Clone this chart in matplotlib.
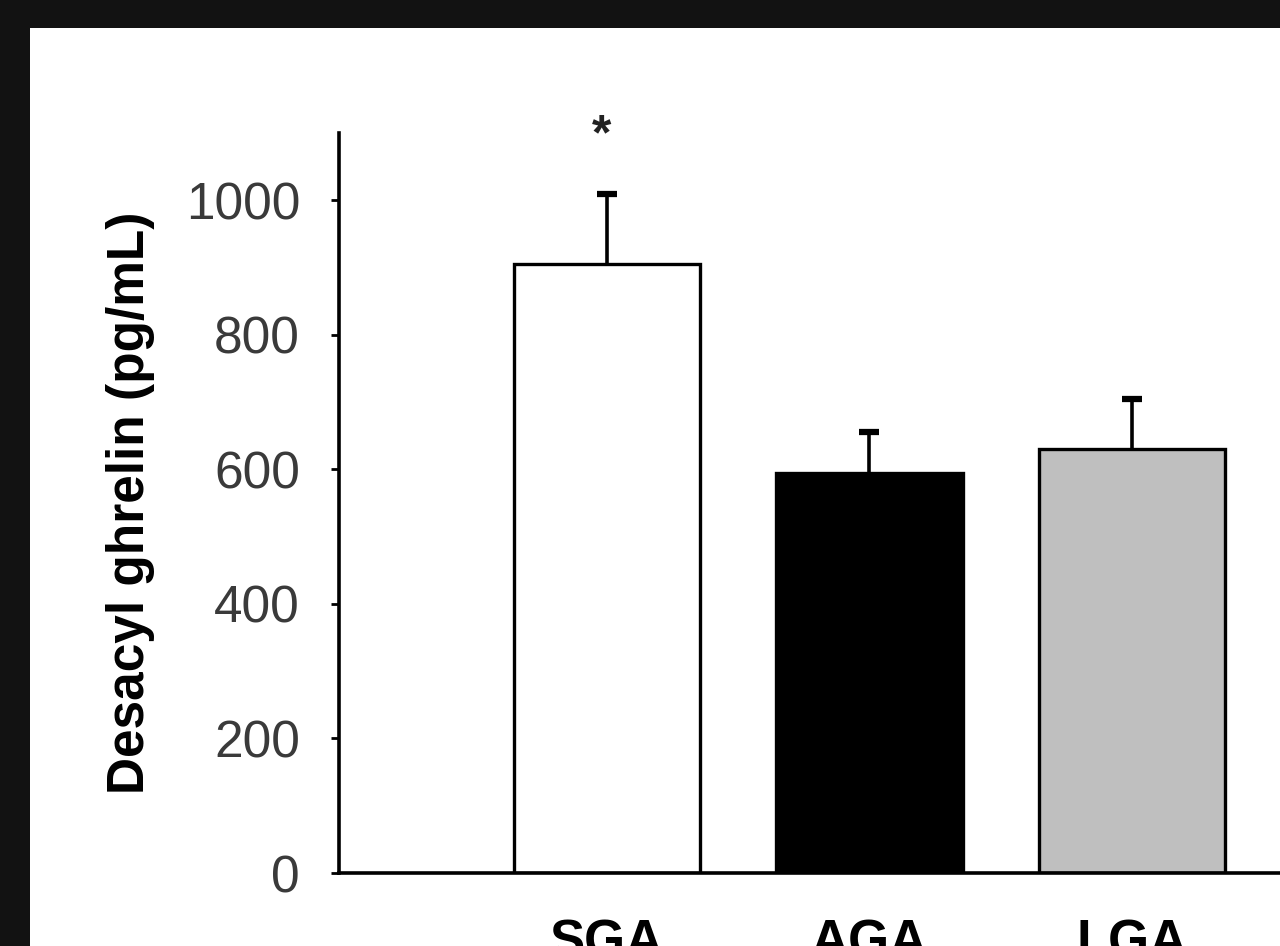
import matplotlib
matplotlib.use("Agg")
import matplotlib.pyplot as plt
from matplotlib.patches import Rectangle

# data
groups = ["SGA", "AGA", "LGA"]
means = [905, 595, 630]
sems = [105, 60, 75]
bar_colors = ["white", "black", "#bfbfbf"]
yticks = [0, 200, 400, 600, 800, 1000]
stars = ["*", "", ""]

plt.rcParams['font.family'] = ['Liberation Sans', 'DejaVu Sans']

fig = plt.figure(figsize=(12.8, 9.46), dpi=100)
fig.patch.set_facecolor("#121212")

# white panel inside the dark frame
fig.patches.append(Rectangle((30 / 1280, 0), 1.0, 1 - 28 / 946, transform=fig.transFigure,
                             facecolor="white", edgecolor="none", zorder=-10))

ax = fig.add_axes([339 / 1280, 73 / 946, 1 - 339 / 1280, (873 - 133) / 946])
ax.set_facecolor("none")
ax.set_zorder(5)

x = list(range(len(groups)))
ax.bar(x, means, width=0.71, color=bar_colors, edgecolor="black", linewidth=2.4, zorder=2)
_, caps, _ = ax.errorbar(x, means, yerr=[[0] * len(sems), sems], fmt="none", ecolor="black",
                         elinewidth=2.6, capsize=7, capthick=4.5, zorder=1)
# only the upper cap is shown
caps[0].set_visible(False)

# significance mark above the first bar
for xi, m, s, st in zip(x, means, sems, stars):
    if st:
        ax.text(xi - 0.02, m + s + 85, st, ha="center", va="center", fontsize=36,
                fontweight="bold", color="#222222", clip_on=False)

ax.set_xlim(-1.021, 2.564)
ax.set_ylim(0, 1100)
ax.set_yticks(yticks)
ax.set_yticklabels([str(t) for t in yticks], fontsize=37, color="#3a3a3a")
ax.set_xticks(x)
ax.set_xticklabels(groups, fontsize=38, fontweight="bold")
ax.tick_params(axis="x", length=0, pad=33)
ax.tick_params(axis="y", direction="out", length=6, width=2, pad=22)

ax.set_ylabel("Desacyl ghrelin (pg/mL)", fontsize=37, fontweight="bold", labelpad=22)

ax.spines["top"].set_visible(False)
ax.spines["right"].set_visible(False)
ax.spines["left"].set_linewidth(2.6)
ax.spines["bottom"].set_linewidth(2.6)

fig.savefig("out.png", dpi=100, facecolor=fig.get_facecolor())
